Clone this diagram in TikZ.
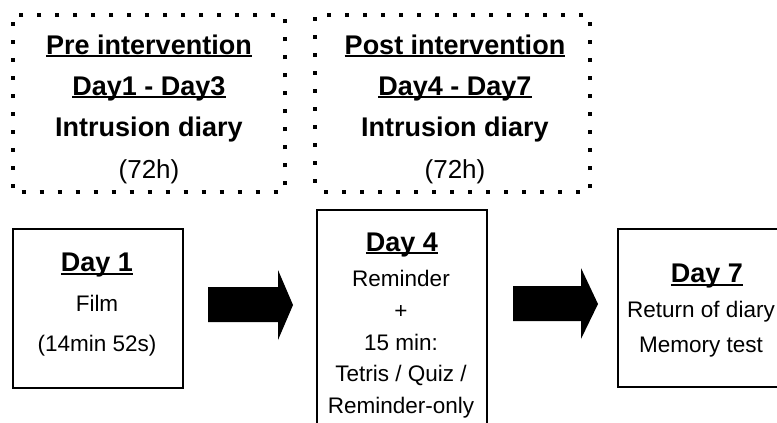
\documentclass[tikz,border=0pt]{standalone}
\usepackage{fontspec}
\setmainfont{Liberation Sans}
\newcommand\myul[1]{\setbox0\hbox{#1}\rlap{\rule[-3pt]{\wd0}{2pt}}\box0}
\newcommand\bighead{\fontsize{27}{30}\selectfont\bfseries}
\newcommand\topreg{\fontsize{26}{30}\selectfont}
\newcommand\lowreg{\fontsize{22.5}{26}\selectfont}
\tikzset{
  dotbox/.style={draw, line width=4pt, dash pattern=on 4pt off 14pt, dash phase=9pt, inner sep=0pt},
  daybox/.style={draw, line width=2pt, inner sep=0pt},
  txt/.style={anchor=base, inner sep=0pt},
  blockarrow/.style={fill=black}
}
\begin{document}
\begin{tikzpicture}[x=1pt,y=-1pt]
\useasboundingbox (0,0) rectangle (777,423);
\clip (0,0) rectangle (777,423);

% dotted boxes
\node[dotbox, minimum width=272.3pt, minimum height=177pt] (pre) at (148.85,103.5) {};
\node[dotbox, minimum width=275pt, minimum height=177pt] (post) at (452.5,103.5) {};

\node[txt] (pre1) at (149,54.3) {\bighead\myul{Pre intervention}};
\node[txt] (pre2) at (149,95.3) {\bighead\myul{Day1 - Day3}};
\node[txt] (pre3) at (149,136.6) {\bighead Intrusion diary};
\node[txt] (pre4) at (149,178) {\topreg (72h)};

\node[txt] (post1) at (455,54.3) {\bighead\myul{Post intervention}};
\node[txt] (post2) at (455,95.3) {\bighead\myul{Day4 - Day7}};
\node[txt] (post3) at (455,136.6) {\bighead Intrusion diary};
\node[txt] (post4) at (455,178) {\topreg (72h)};

% day boxes
\node[daybox, minimum width=170pt, minimum height=159pt] (day1) at (98,308.5) {};
\node[daybox, minimum width=170pt, minimum height=230pt] (day4) at (402,325) {};
\node[daybox, minimum width=172pt, minimum height=158pt] (day7) at (704,308) {};

\node[txt] (d1a) at (97,271.6) {\bighead\myul{Day 1}};
\node[txt] (d1b) at (97,311.8) {\lowreg Film};
\node[txt] (d1c) at (97,351.8) {\lowreg (14min 52s)};

\node[txt] (d4a) at (402,251) {\bighead\myul{Day 4}};
\node[txt] (d4b) at (401,286) {\lowreg Reminder};
\node[txt] (d4c) at (401,318) {\lowreg +};
\node[txt] (d4d) at (401,350) {\lowreg 15 min:};
\node[txt] (d4e) at (401,381) {\lowreg Tetris / Quiz /};
\node[txt] (d4f) at (401,413) {\lowreg Reminder-only};

\node[txt] (d7a) at (707,282.6) {\bighead\myul{Day 7}};
\node[txt] (d7b) at (701,317.8) {\lowreg Return of diary};
\node[txt] (d7c) at (701,352.8) {\lowreg Memory test};

% block arrows
\fill[blockarrow] (208,287) -- (278,287) -- (278,270) -- (293,305) -- (278,340) -- (278,322) -- (208,322) -- cycle;
\fill[blockarrow] (513,286) -- (581,286) -- (581,268) -- (598,304) -- (581,339) -- (581,321) -- (513,321) -- cycle;
\end{tikzpicture}
\end{document}
